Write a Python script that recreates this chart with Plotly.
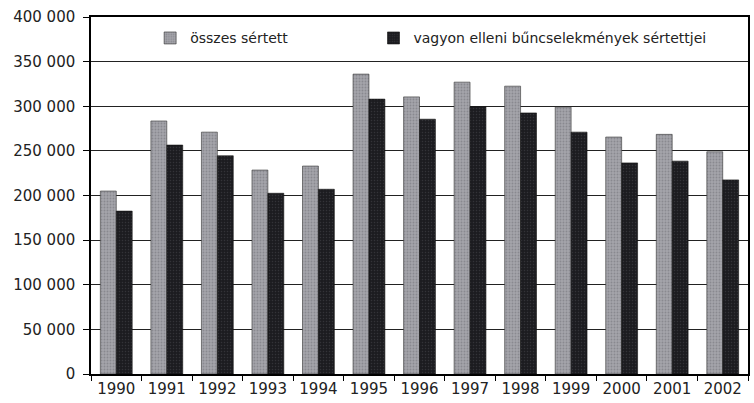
import plotly.graph_objects as go

# Hungarian crime victims, 1990-2002
years = ["1990", "1991", "1992", "1993", "1994", "1995", "1996",
         "1997", "1998", "1999", "2000", "2001", "2002"]
osszes = [205000, 283500, 271000, 228500, 233000, 336000, 310500,
          327000, 322500, 299000, 265500, 268500, 249000]
vagyon = [182500, 256500, 244500, 202500, 207000, 308000, 285500,
          299500, 292500, 271000, 236500, 238500, 217500]

FONT = "DejaVu Sans"

fig = go.Figure()
fig.add_trace(go.Bar(
    x=years, y=osszes, name="összes sértett", legend="legend",
    marker=dict(color="#a4a4aa", line=dict(color="#333333", width=0.6),
                pattern=dict(shape=".", fgcolor="#6e6e74", size=3, solidity=0.3)),
))
fig.add_trace(go.Bar(
    x=years, y=vagyon, name="vagyon elleni bűncselekmények sértettjei",
    legend="legend2",
    marker=dict(color="#1c1c20", line=dict(color="#111111", width=0.6),
                pattern=dict(shape=".", fgcolor="#4a4a50", size=3, solidity=0.2)),
))

leg = dict(yanchor="top", xanchor="left", y=0.985,
           font=dict(family=FONT, size=14, color="#222222"),
           bgcolor="rgba(0,0,0,0)")

fig.update_layout(
    width=754, height=403,
    margin=dict(l=91, r=4, t=17, b=29),
    paper_bgcolor="white", plot_bgcolor="white",
    font=dict(family=FONT, size=15, color="#222222"),
    separators=", ",
    barmode="group", bargap=0.37, bargroupgap=0,
    showlegend=True,
    legend=dict(leg, x=0.09),
    legend2=dict(leg, x=0.43),
)
fig.update_xaxes(
    type="category", showline=True, linecolor="black", linewidth=1.5,
    mirror=True, ticks="outside", tickson="boundaries", ticklen=5,
    tickcolor="black", showgrid=False,
)
fig.update_yaxes(
    range=[0, 400000], dtick=50000, tickformat=",d",
    tickfont=dict(size=15),
    showline=True, linecolor="black", linewidth=1.5, mirror=True,
    ticks="outside", ticklen=6, tickcolor="black", ticklabelstandoff=5,
    showgrid=True, gridcolor="#222222", gridwidth=1, zeroline=False,
)

# page has a default 8px body margin; drop it so the figure fills the window
fig.write_html("out.html", config={"displayModeBar": False},
               post_script="document.body.style.margin='0';")
